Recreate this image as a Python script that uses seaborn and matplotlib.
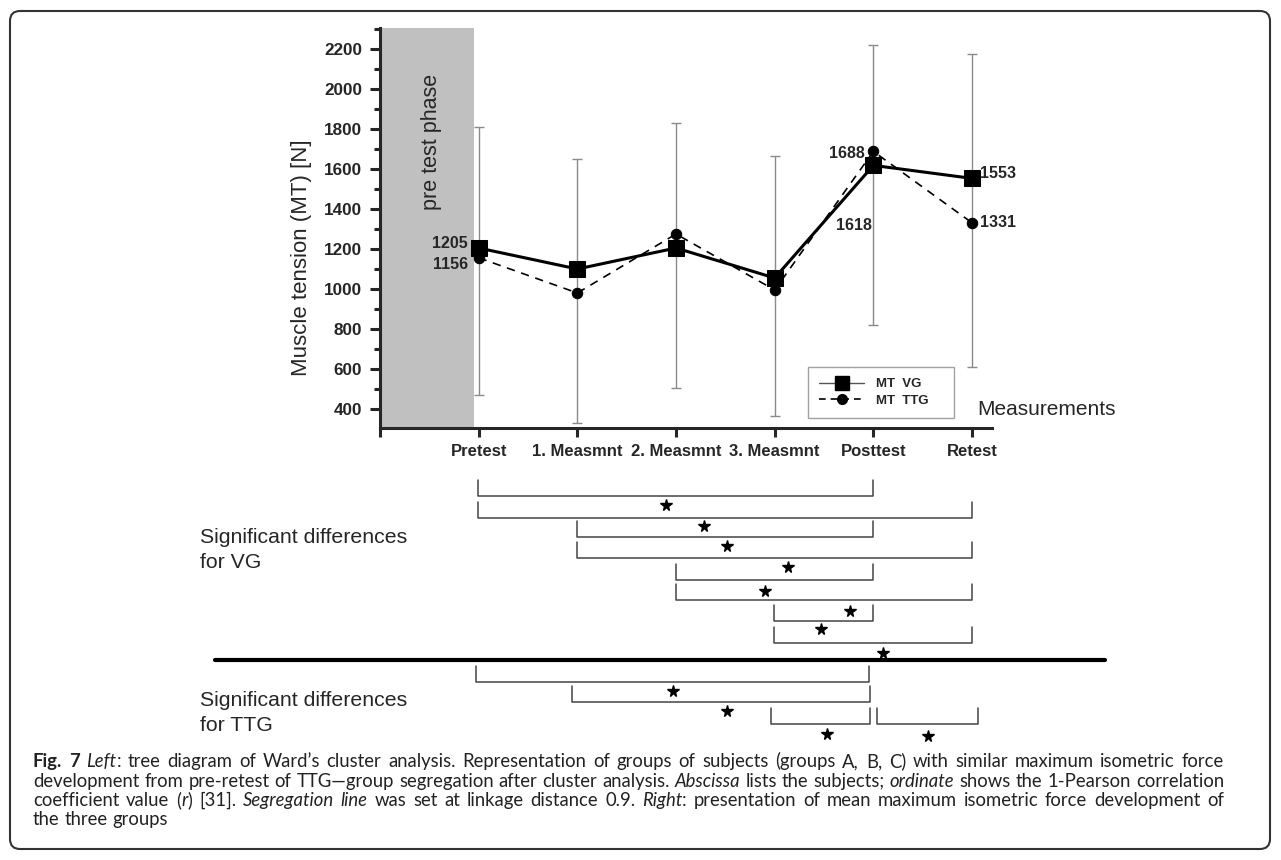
import re
import numpy as np
import pandas as pd
import matplotlib
matplotlib.use("Agg")
import matplotlib.pyplot as plt
import seaborn as sns
from matplotlib.lines import Line2D
from matplotlib.patches import FancyBboxPatch
from matplotlib.ticker import MultipleLocator
from matplotlib.transforms import IdentityTransform

# ---------------- data ----------------
categories = ["Pretest", "1. Measmnt", "2. Measmnt", "3. Measmnt", "Posttest", "Retest"]
mt_vg = [1205, 1100, 1205, 1055, 1618, 1553]
mt_ttg = [1156, 980, 1275, 995, 1688, 1331]
err_low = [470, 330, 505, 365, 820, 610]
err_high = [1810, 1650, 1830, 1665, 2220, 2175]
y_ticks = [400, 600, 800, 1000, 1200, 1400, 1600, 1800, 2000, 2200]

# significance brackets (index pairs of categories)
vg_pairs = [(0, 4), (0, 5), (1, 4), (1, 5), (2, 4), (2, 5), (3, 4), (3, 5)]
ttg_pairs = [(0, 4), (1, 4), (3, 4), (4, 5)]

# ---------------- layout (pixels) ----------------
W, H = 1281, 860
DPI = 100
def fx(px): return px / W
def fy(py): return 1 - py / H

sns.set_style("ticks")
plt.rcParams["font.family"] = ["Liberation Sans", "DejaVu Sans"]

fig = plt.figure(figsize=(W / DPI, H / DPI), dpi=DPI)
fig.patch.set_facecolor("white")

x_left = (380 - 478) / 98.8
x_right = (992 - 478) / 98.8

ax = fig.add_axes([fx(380), fy(428), (992 - 380) / W, 400 / H])
ax.axvspan(x_left, -0.05, color="#c0c0c0", lw=0, zorder=0)

pos = np.arange(len(categories))
lo = np.array(err_low)
hi = np.array(err_high)
ax.errorbar(pos, (lo + hi) / 2, yerr=(hi - lo) / 2, fmt="none", ecolor="#8a8a8a",
            elinewidth=1.0, capsize=3.6, capthick=1.0, zorder=1)

df = pd.DataFrame({"pos": pos, "vg": mt_vg, "ttg": mt_ttg})
sns.lineplot(data=df, x="pos", y="ttg", ax=ax, color="black", lw=1.2,
             linestyle=(0, (5, 4)), marker="o", markersize=7.5,
             markeredgecolor="black", zorder=3)
sns.lineplot(data=df, x="pos", y="vg", ax=ax, color="black", lw=2.2,
             marker="s", markersize=11.5, markeredgecolor="black", zorder=4)

ax.set_xlim(x_left, x_right)
ax.set_ylim(305, 2305)
ax.set_xlabel("")
ax.set_ylabel("")
ax.set_xticks([-1] + list(pos))
ax.set_xticklabels([""] + categories, fontweight="bold", fontsize=12)
ax.set_yticks(y_ticks)
ax.set_yticklabels([str(v) for v in y_ticks], fontweight="bold", fontsize=12.3)
ax.yaxis.set_minor_locator(MultipleLocator(100))
ax.tick_params(axis="y", which="major", length=7.2, width=2.2, pad=5.8, direction="out")
ax.tick_params(axis="y", which="minor", length=4.3, width=2.2, direction="out")
ax.tick_params(axis="x", which="major", length=6.5, width=2.2, pad=5.0, direction="out")
for s in ["top", "right"]:
    ax.spines[s].set_visible(False)
for s in ["left", "bottom"]:
    ax.spines[s].set_linewidth(2.2)
ax.set_facecolor("none")

# value labels
lab_kw = dict(textcoords="offset points", fontweight="bold", fontsize=11.5, va="center")
ax.annotate(str(mt_vg[0]), xy=(0, mt_vg[0]), xytext=(-7.9, 3.6), ha="right", **lab_kw)
ax.annotate(str(mt_ttg[0]), xy=(0, mt_ttg[0]), xytext=(-7.9, -5.0), ha="right", **lab_kw)
ax.annotate(str(mt_ttg[4]), xy=(4, mt_ttg[4]), xytext=(-6.5, -1.4), ha="right", **lab_kw)
ax.annotate(str(mt_vg[4]), xy=(4, mt_vg[4]), xytext=(-1.4, -43), ha="right", **lab_kw)
ax.annotate(str(mt_vg[5]), xy=(5, mt_vg[5]), xytext=(5.8, 3.6), ha="left", **lab_kw)
ax.annotate(str(mt_ttg[5]), xy=(5, mt_ttg[5]), xytext=(5.8, 0), ha="left", **lab_kw)

# legend
h_vg = Line2D([], [], color="#555555", lw=1.0, marker="s", markersize=10,
              markerfacecolor="black", markeredgecolor="black")
h_ttg = Line2D([], [], color="black", lw=1.2, linestyle=(0, (4, 3)), marker="o",
               markersize=7, markerfacecolor="black", markeredgecolor="black")
leg = ax.legend([h_vg, h_ttg], ["MT  VG    ", "MT  TTG    "],
                loc="upper left",
                bbox_to_anchor=(fx(808), fy(367)), bbox_transform=fig.transFigure,
                borderaxespad=0, frameon=True, fancybox=False, handlelength=3.4,
                prop={"weight": "bold", "size": 9.5}, labelspacing=0.3,
                borderpad=0.85, handletextpad=0.9)
leg.get_frame().set_edgecolor("#8a8a8a")
leg.get_frame().set_linewidth(1.0)

fig.text(fx(302), fy(258), "Muscle tension (MT) [N]", rotation=90, ha="center",
         va="center", fontsize=16)
fig.text(fx(432), fy(142), "pre test phase", rotation=90, ha="center",
         va="center", fontsize=15.5)
fig.text(fx(977), fy(410), "Measurements", ha="left", va="center", fontsize=15)

# ---------------- significance brackets ----------------
ax2 = fig.add_axes([fx(380), fy(750), (992 - 380) / W, (750 - 460) / H])
ax2.set_xlim(x_left, x_right)
ax2.set_ylim(750, 460)
ax2.axis("off")

vg_rows = [496, 518, 537, 558, 580, 600, 621, 643]
vg_star_x = [1.90, 2.29, 2.52, 3.14, 2.90, 3.77, 3.47, 4.10]
vg_star_y = [505, 526, 546, 567, 591, 611, 629, 653]
ttg_rows = [682, 702, 724, 724]
ttg_off = [(-0.02, -0.04), (-0.05, -0.03), (-0.03, -0.03), (0.04, 0.06)]
ttg_star_x = [1.97, 2.52, 3.53, 4.55]
ttg_star_y = [691, 711, 734, 736]
br_h = 16
br_kw = dict(color="#444444", lw=1.1, clip_on=False)

for (i, j), b in zip(vg_pairs, vg_rows):
    ax2.plot([i, i, j, j], [b - br_h, b, b, b - br_h], **br_kw)
for (i, j), b, (oi, oj) in zip(ttg_pairs, ttg_rows, ttg_off):
    ax2.plot([i + oi, i + oi, j + oj, j + oj], [b - br_h, b, b, b - br_h], **br_kw)
ax2.plot(vg_star_x + ttg_star_x, vg_star_y + ttg_star_y, ls="none", marker="*",
         markersize=8.5, color="black", clip_on=False)

fig.add_artist(Line2D([fx(215), fx(1105)], [fy(660), fy(660)], color="black", lw=3.0,
                      transform=fig.transFigure))

txt_kw = dict(ha="left", va="baseline", fontsize=15.3)
fig.text(fx(200), fy(543), "Significant differences", **txt_kw)
fig.text(fx(200), fy(568), "for VG", **txt_kw)
fig.text(fx(200), fy(706), "Significant differences", **txt_kw)
fig.text(fx(200), fy(731), "for TTG", **txt_kw)

# ---------------- caption ----------------
REG, IT, BO = "normal", "italic", "bold"
caption = [
    [("Fig. 7", BO), (" ", REG), ("Left", IT),
     (": tree diagram of Ward\u2019s cluster analysis. Representation of groups of subjects (groups A, B, C) with similar maximum isometric force", REG)],
    [("development from pre-retest of TTG\u2014group segregation after cluster analysis. ", REG), ("Abscissa", IT),
     (" lists the subjects; ", REG), ("ordinate", IT), (" shows the 1-Pearson correlation", REG)],
    [("coefficient value (", REG), ("r", IT), (") [31]. ", REG), ("Segregation line", IT),
     (" was set at linkage distance 0.9. ", REG), ("Right", IT),
     (": presentation of mean maximum isometric force development of", REG)],
    [("the three groups", REG)],
]
cap_base = [767, 787, 806, 825]
cap_x0, cap_x1 = 33.0, 1224.0
renderer = fig.canvas.get_renderer()
CAP_FONT = ["Lato", "DejaVu Sans"]

def props(style, size):
    p = dict(family=CAP_FONT, fontsize=size, color="#222222")
    if style == BO:
        p["fontweight"] = "bold"
    elif style == IT:
        p["fontstyle"] = "italic"
    return p

_cache = {}
def seg_width(s, style, size):
    key = (s, style, round(size, 4))
    if key in _cache:
        return _cache[key]
    t = fig.text(0, 0, "|" + s + "|", **props(style, size))
    w1 = t.get_window_extent(renderer).width
    t.set_text("||")
    w2 = t.get_window_extent(renderer).width
    t.remove()
    _cache[key] = w1 - w2
    return w1 - w2

def words(line):
    out, cur = [], []
    for s, st in line:
        for piece in re.split(r"( )", s):
            if piece == " ":
                if cur:
                    out.append(cur)
                    cur = []
            elif piece:
                cur.append((piece, st))
    if cur:
        out.append(cur)
    return out

def word_w(wd, size):
    return sum(seg_width(p, st, size) for p, st in wd)

base_size = 11.0
sp0 = seg_width(" ", REG, base_size)
widest = max(sum(word_w(wd, base_size) for wd in words(l)) + sp0 * (len(words(l)) - 1)
             for l in caption)
cap_size = base_size * (cap_x1 - cap_x0 - 2) / widest

sp = seg_width(" ", REG, cap_size)
for k, (line, yb) in enumerate(zip(caption, cap_base)):
    wds = words(line)
    ww = [word_w(wd, cap_size) for wd in wds]
    gap = sp
    if k < len(caption) - 1 and len(wds) > 1:
        gap = (cap_x1 - cap_x0 - sum(ww)) / (len(wds) - 1)
    xp = cap_x0
    for wd, w in zip(wds, ww):
        xs = xp
        for p, st in wd:
            fig.text(fx(xs), fy(yb), p, va="baseline", ha="left", **props(st, cap_size))
            xs += seg_width(p, st, cap_size)
        xp += w + gap

# outer rounded border
fig.add_artist(FancyBboxPatch((10, 11), 1260, 838, boxstyle="round,pad=0,rounding_size=10",
                              transform=IdentityTransform(), fill=False,
                              edgecolor="#333333", lw=1.5))

fig.savefig("out.png", dpi=DPI)
